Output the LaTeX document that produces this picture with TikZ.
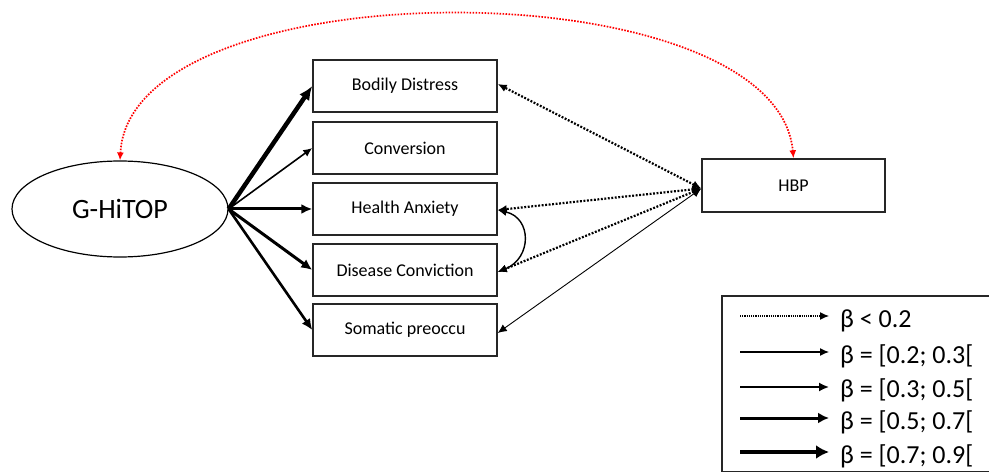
\documentclass[tikz,border=0pt]{standalone}
\usepackage{fontspec}
\setmainfont{Carlito}
\usetikzlibrary{arrows.meta,shapes.geometric}
\begin{document}
\begin{tikzpicture}[x=1pt,y=-1pt,
  box/.style={draw=black!85,line width=1.4pt,minimum width=184pt,minimum height=52pt,inner sep=0pt,font=\fontsize{18}{21}\selectfont},
  dotline/.style={line width=2.2pt,dash pattern=on 1.9pt off 1.6pt},
  reddot/.style={draw=red,line width=1.7pt,dash pattern=on 1.6pt off 1.4pt},
  tipS/.style={-{Latex[length=9pt,width=8pt]}},
  tipM/.style={-{Latex[length=11pt,width=10pt]}},
  tipL/.style={-{Latex[length=14pt,width=12pt]}},
  bothS/.style={{Latex[length=9pt,width=8pt]}-{Latex[length=9pt,width=8pt]}},
  legtext/.style={anchor=base west,inner sep=0pt,font=\fontsize{26}{29}\selectfont}
]
\useasboundingbox (0,0) rectangle (989,473);

% nodes
\node[draw,line width=1.2pt,ellipse,minimum width=216pt,minimum height=96pt,inner sep=0pt,font=\fontsize{28}{31}\selectfont] (gh) at (120,209) {G-HiTOP};
\node[box] (bd) at (405,86) {Bodily Distress};
\node[box] (cv) at (405,148) {Conversion};
\node[box] (ha) at (405,209) {Health Anxiety};
\node[box] (dc) at (405,270) {Disease Conviction};
\node[box] (sp) at (405,330) {Somatic preoccu};
\node[box,minimum width=183pt,minimum height=53pt] (hbp) at (793.5,185.5) {HBP};

% G-HiTOP loadings
\draw[line width=4.5pt,tipL] (gh.east) -- (bd.west);
\draw[line width=1.6pt,tipS] (gh.east) -- (cv.west);
\draw[line width=3pt,tipM] (gh.east) -- (ha.west);
\draw[line width=3pt,tipM] (gh.east) -- (dc.west);
\draw[line width=2.6pt,tipM] (gh.east) -- (sp.west);

% HBP paths
\coordinate (hb) at ([yshift=-3pt]hbp.west);
\draw[dotline,bothS] (hb) -- ([yshift=2pt]bd.east);
\draw[dotline,bothS] (hb) -- ([yshift=-1pt]ha.east);
\draw[dotline,bothS] (hb) -- ([yshift=-2pt]dc.east);
\draw[line width=0.9pt,bothS] (hb) -- ([yshift=-3pt]sp.east);

% residual covariance
\draw[line width=1.4pt,bothS] ([yshift=-1pt]ha.east) .. controls (532,218) and (532,258) .. ([yshift=-2pt]dc.east);

% red covariance arc
\draw[reddot,{Latex[length=8pt,width=7pt]}-{Latex[length=8pt,width=7pt]}] (gh.north) .. controls (130,-34) and (776,-34) .. (hbp.north);

% legend
\draw[line width=1.2pt,draw=black!85] (1000,296) -- (722,296) -- (722,471.5) -- (1000,471.5);
\coordinate (l1a) at (740,316); \coordinate (l1b) at (829,316);
\coordinate (l2a) at (740,352); \coordinate (l2b) at (829,352);
\coordinate (l3a) at (740,387); \coordinate (l3b) at (829,387);
\coordinate (l4a) at (740,418); \coordinate (l4b) at (829,418);
\coordinate (l5a) at (740,452); \coordinate (l5b) at (829,452);
\draw[line width=1.2pt,dash pattern=on 1.2pt off 1pt,-{Latex[length=9pt,width=8pt]}] (l1a) -- (l1b);
\draw[line width=1.2pt,-{Latex[length=9pt,width=8pt]}] (l2a) -- (l2b);
\draw[line width=1.7pt,-{Latex[length=10pt,width=9pt]}] (l3a) -- (l3b);
\draw[line width=3pt,-{Latex[length=11pt,width=11pt]}] (l4a) -- (l4b);
\draw[line width=4.8pt,-{Latex[length=13pt,width=14pt]}] (l5a) -- (l5b);
\node[legtext] (t1) at (840,328) {β < 0.2};
\node[legtext] (t2) at (840,363) {β = [0.2; 0.3[};
\node[legtext] (t3) at (840,398) {β = [0.3; 0.5[};
\node[legtext] (t4) at (840,429) {β = [0.5; 0.7[};
\node[legtext] (t5) at (840,463) {β = [0.7; 0.9[};
\end{tikzpicture}
\end{document}
